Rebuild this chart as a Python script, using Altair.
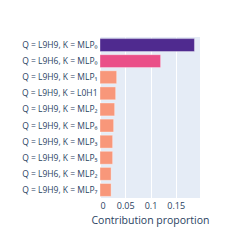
import altair as alt
import pandas as pd

labels = [
    "Q = L9H9, K = MLP₀",
    "Q = L9H6, K = MLP₀",
    "Q = L9H9, K = MLP₁",
    "Q = L9H9, K = L0H1",
    "Q = L9H9, K = MLP₂",
    "Q = L9H9, K = MLP₆",
    "Q = L9H9, K = MLP₃",
    "Q = L9H9, K = MLP₅",
    "Q = L9H6, K = MLP₂",
    "Q = L9H9, K = MLP₇",
]
values = [0.187, 0.120, 0.033, 0.031, 0.029, 0.027, 0.025, 0.025, 0.022, 0.022]
groups = ["a", "b", "c", "c", "c", "c", "c", "c", "c", "c"]
group_colors = ["#4f2a8f", "#ea4f88", "#f8977a"]
x_ticks = [0, 0.05, 0.1, 0.15]

df = pd.DataFrame({"label": labels, "value": values, "group": groups})

font_color = "#2a3f5f"

chart = alt.Chart(df).mark_bar(stroke="white", strokeOpacity=0.35, strokeWidth=1).encode(
    x=alt.X("value:Q", title="Contribution proportion",
            scale=alt.Scale(domain=[0, 0.198], nice=False, zero=True),
            axis=alt.Axis(values=x_ticks, format="~g", grid=True, gridColor="white",
                          gridWidth=1, domain=False, ticks=False, labelPadding=3,
                          labelFontSize=9, labelColor=font_color, titleColor=font_color,
                          titleFontSize=10.5, titleFontWeight="normal", titlePadding=5,
                          labelFont="Open Sans", titleFont="Open Sans")),
    y=alt.Y("label:N", sort=labels, title=None,
            scale=alt.Scale(paddingInner=0.2, paddingOuter=0.1),
            axis=alt.Axis(domain=False, ticks=False, grid=False, labelPadding=3,
                          labelFontSize=8.5, labelColor=font_color, labelFont="Open Sans",
                          labelLimit=200)),
    color=alt.Color("group:N", scale=alt.Scale(domain=["a", "b", "c"], range=group_colors),
                    legend=None),
).properties(
    width=100, height=161,
    autosize=alt.AutoSizeParams(type="none"),
    padding={"left": 92, "top": 29, "right": 42, "bottom": 45},
    background="white",
).configure_view(fill="#e5ecf6", stroke=None)

chart.save("out.html", embed_options={"renderer": "svg", "actions": False})
